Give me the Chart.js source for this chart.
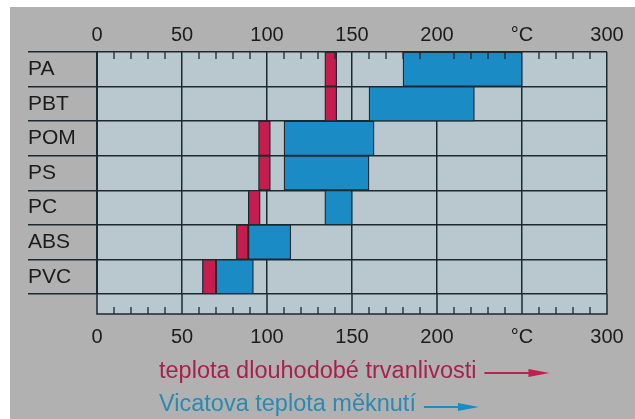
<!DOCTYPE html>
<html>
<head>
<meta charset="utf-8">
<script src="https://cdn.jsdelivr.net/npm/chart.js@4.4.1/dist/chart.umd.min.js"></script>
<style>
html,body{margin:0;padding:0;background:#fff;}
#wrap{width:635px;height:419px;}
</style>
</head>
<body>
<div id="wrap"><canvas id="c" width="635" height="419"></canvas></div>
<script>
// ---- data ----
const categories = ['PA', 'PBT', 'POM', 'PS', 'PC', 'ABS', 'PVC'];
// long-term service temperature (red bars), °C
const longTermStart = [134, 134, 95, 95, 89, 82, 62];
const longTermEnd   = [141, 141, 102, 102, 96, 89, 70];
// Vicat softening temperature (blue bars), °C
const vicatStart = [180, 160, 110, 110, 134, 89, 70];
const vicatEnd   = [250, 222, 163, 160, 150, 114, 92];
// axis ticks
const tickValues = [0, 50, 100, 150, 200, 250, 300];
const tickLabels = ['0', '50', '100', '150', '200', '°C', '300'];
const minorStep = 10;
const seriesLabels = ['teplota dlouhodobé trvanlivosti', 'Vicatova teplota měknutí'];

// ---- styles ----
const FONT = "'Liberation Sans', Arial, Helvetica, sans-serif";
const LINE = '#1d2930';
const PLOT_BG = '#b9c8ce';
const PAGE_BG = '#b1b1b1';
const RED = '#c41d4e';
const BLUE = '#1b8bc6';
const RED_TEXT = '#a8214d';
const BLUE_TEXT = '#2a8ab3';
const STRIP = 20;

const minorTicks = [];
for (let v = tickValues[0] + minorStep; v < tickValues[tickValues.length - 1]; v += minorStep) {
  if (!tickValues.includes(v)) minorTicks.push(v);
}

const decor = {
  id: 'decor',
  beforeDraw(chart) {
    const {ctx, chartArea: a, width, height} = chart;
    ctx.save();
    ctx.fillStyle = '#ffffff';
    ctx.fillRect(0, 0, width, height);
    ctx.fillStyle = PAGE_BG;
    ctx.fillRect(10, 7, width - 10, height - 7);
    ctx.fillStyle = PLOT_BG;
    ctx.fillRect(a.left, a.top, a.right - a.left, a.bottom - a.top + STRIP);
    ctx.restore();
  },
  afterDraw(chart) {
    const {ctx, chartArea: a} = chart;
    const xs = chart.scales.x;
    const sb = a.bottom + STRIP;
    ctx.save();
    ctx.strokeStyle = LINE;
    ctx.lineWidth = 1.5;
    ctx.beginPath();
    for (const v of tickValues) {
      const px = xs.getPixelForValue(v);
      ctx.moveTo(px, a.bottom);
      ctx.lineTo(px, sb);
    }
    ctx.moveTo(a.left - 0.75, sb);
    ctx.lineTo(a.right + 0.75, sb);
    ctx.stroke();
    ctx.lineWidth = 1.3;
    ctx.beginPath();
    for (const v of minorTicks) {
      const px = xs.getPixelForValue(v);
      ctx.moveTo(px, a.top);
      ctx.lineTo(px, a.top + 7);
      ctx.moveTo(px, sb);
      ctx.lineTo(px, sb - 7);
    }
    ctx.stroke();

    // legend texts with arrows
    const ds = chart.data.datasets;
    const rows = [
      {y: 378, ay: 373, len: 65, color: RED_TEXT, arrow: RED},
      {y: 411, ay: 407, len: 55, color: BLUE_TEXT, arrow: BLUE}
    ];
    ctx.font = '23.5px ' + FONT;
    ctx.textBaseline = 'alphabetic';
    ctx.textAlign = 'left';
    ds.forEach((d, i) => {
      const r = rows[i];
      const x0 = 159;
      ctx.fillStyle = r.color;
      ctx.fillText(d.label, x0, r.y);
      const w = ctx.measureText(d.label).width;
      const s = x0 + w + 8;
      const e = s + r.len;
      ctx.strokeStyle = r.arrow;
      ctx.lineWidth = 2;
      ctx.beginPath();
      ctx.moveTo(s, r.ay);
      ctx.lineTo(e - 16, r.ay);
      ctx.stroke();
      ctx.fillStyle = r.arrow;
      ctx.beginPath();
      ctx.moveTo(e - 21, r.ay - 4);
      ctx.lineTo(e, r.ay);
      ctx.lineTo(e - 21, r.ay + 4);
      ctx.closePath();
      ctx.fill();
    });
    ctx.restore();
  }
};

const tickCb = (value) => {
  const i = tickValues.indexOf(value);
  return i >= 0 ? tickLabels[i] : '';
};

new Chart(document.getElementById('c'), {
  type: 'bar',
  data: {
    labels: categories,
    datasets: [
      {
        label: seriesLabels[0],
        data: categories.map((c, i) => [longTermStart[i], longTermEnd[i]]),
        backgroundColor: RED,
        borderColor: LINE,
        borderWidth: 1.3,
        borderSkipped: false,
        grouped: false,
        barPercentage: 1,
        categoryPercentage: 1
      },
      {
        label: seriesLabels[1],
        data: categories.map((c, i) => [vicatStart[i], vicatEnd[i]]),
        backgroundColor: BLUE,
        borderColor: LINE,
        borderWidth: 1.3,
        borderSkipped: false,
        grouped: false,
        barPercentage: 1,
        categoryPercentage: 1
      }
    ]
  },
  options: {
    responsive: false,
    animation: false,
    indexAxis: 'y',
    layout: {padding: {left: 28, right: 28, top: 0, bottom: 0}},
    plugins: {legend: {display: false}, tooltip: {enabled: false}},
    scales: {
      y: {
        type: 'category',
        offset: true,
        grid: {offset: true, color: LINE, lineWidth: 1.5, drawTicks: true, tickLength: 69, tickColor: LINE, tickWidth: 1.5},
        border: {display: true, color: LINE, width: 2},
        ticks: {crossAlign: 'far', color: '#1c1c1c', font: {family: FONT, size: 21}},
        afterFit: (s) => { s.width = 69; }
      },
      x: {
        type: 'linear',
        position: 'bottom',
        min: 0, max: 300,
        z: 1,
        afterBuildTicks: (s) => { s.ticks = tickValues.map(v => ({value: v})); },
        ticks: {callback: tickCb, color: '#1c1c1c', padding: 3, maxRotation: 0, autoSkip: false, font: {family: FONT, size: 20}},
        grid: {color: LINE, lineWidth: 1.5, drawTicks: true, tickLength: 28, tickColor: 'rgba(0,0,0,0)'},
        border: {display: false},
        afterFit: (s) => { s.height = 125; }
      },
      xTop: {
        type: 'linear',
        position: 'top',
        min: 0, max: 300,
        afterBuildTicks: (s) => { s.ticks = tickValues.map(v => ({value: v})); },
        ticks: {callback: tickCb, color: '#1c1c1c', padding: 5, maxRotation: 0, autoSkip: false, font: {family: FONT, size: 20}},
        grid: {display: false, drawTicks: false},
        border: {display: false},
        afterFit: (s) => { s.height = 52; }
      }
    }
  },
  plugins: [decor]
});
</script>
</body>
</html>
